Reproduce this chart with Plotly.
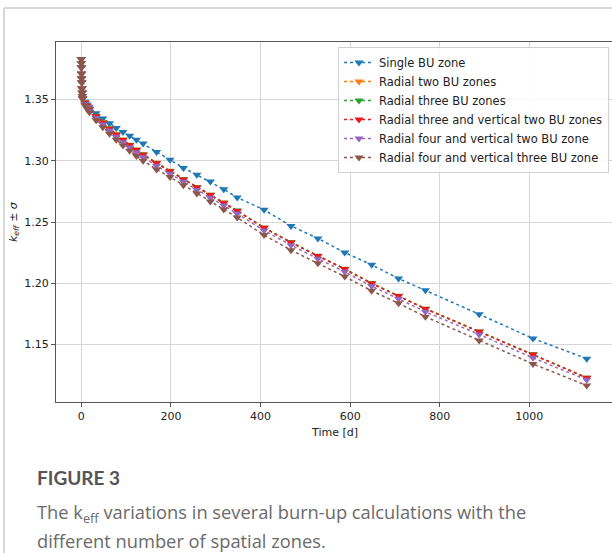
import plotly.graph_objects as go

# ---------------- data ----------------
time_d = [0, 0.1, 0.25, 0.5, 0.75, 1, 1.5, 2, 2.5, 3, 8, 13, 18, 33, 48, 63, 78, 93, 108, 123, 138,
          168, 198, 228, 258, 288, 318, 348, 408, 468, 528, 588, 648, 708, 768, 888, 1008, 1128]

early = [1.3832, 1.3800, 1.3762, 1.3712, 1.3672, 1.3640, 1.3592, 1.3556, 1.3530, 1.3510]

single = early + [1.3482, 1.3460, 1.3437, 1.3388, 1.3346, 1.3306, 1.3268, 1.3236, 1.3204, 1.3172, 1.3142,
                  1.3072, 1.3008, 1.2942, 1.2886, 1.2830, 1.2768, 1.2700, 1.2600, 1.2468, 1.2366, 1.2250,
                  1.2150, 1.2038, 1.1942, 1.1746, 1.1548, 1.1383]
radial2 = early + [1.3476, 1.3450, 1.3425, 1.3367, 1.3315, 1.3266, 1.3218, 1.3174, 1.3132, 1.3092, 1.3054,
                   1.2984, 1.2918, 1.2851, 1.2785, 1.2723, 1.2660, 1.2592, 1.2453, 1.2334, 1.2223, 1.2116,
                   1.1999, 1.1895, 1.1791, 1.1603, 1.1416, 1.1226]
radial3 = early + [1.3475, 1.3449, 1.3424, 1.3366, 1.3314, 1.3264, 1.3216, 1.3172, 1.3130, 1.3090, 1.3052,
                   1.2982, 1.2917, 1.2850, 1.2784, 1.2722, 1.2658, 1.2593, 1.2454, 1.2335, 1.2225, 1.2117,
                   1.2000, 1.1897, 1.1792, 1.1606, 1.1419, 1.1228]
r3v2 = early + [1.3474, 1.3448, 1.3422, 1.3364, 1.3312, 1.3262, 1.3214, 1.3170, 1.3128, 1.3088, 1.3050,
                1.2980, 1.2915, 1.2848, 1.2782, 1.2720, 1.2655, 1.2590, 1.2452, 1.2332, 1.2222, 1.2115,
                1.1998, 1.1895, 1.1790, 1.1604, 1.1418, 1.1227]
r4v2 = early + [1.3465, 1.3438, 1.3410, 1.3350, 1.3296, 1.3245, 1.3196, 1.3151, 1.3109, 1.3068, 1.3030,
                1.2959, 1.2895, 1.2828, 1.2761, 1.2699, 1.2634, 1.2569, 1.2430, 1.2311, 1.2200, 1.2093,
                1.1976, 1.1872, 1.1767, 1.1581, 1.1390, 1.1210]
r4v3 = early + [1.3455, 1.3425, 1.3396, 1.3332, 1.3275, 1.3222, 1.3172, 1.3126, 1.3082, 1.3040, 1.3001,
                1.2930, 1.2868, 1.2800, 1.2733, 1.2668, 1.2603, 1.2536, 1.2393, 1.2270, 1.2162, 1.2054,
                1.1938, 1.1836, 1.1726, 1.1532, 1.1340, 1.1164]

series_names = ["Single BU zone", "Radial two BU zones", "Radial three BU zones",
                "Radial three and vertical two BU zones", "Radial four and vertical two BU zone",
                "Radial four and vertical three BU zone"]
series_values = [single, radial2, radial3, r3v2, r4v2, r4v3]
colors = ["#1f77b4", "#ff7f0e", "#2ca02c", "#e8191f", "#9467bd", "#8c564b"]

x_ticks = [0, 200, 400, 600, 800, 1000]
y_ticks = [1.15, 1.20, 1.25, 1.30, 1.35]

# ---------------- figure ----------------
W, H = 612, 553
L, R, T, B = 56, 0, 42, 151
pw, ph = W - L - R, H - T - B

def px(xp):
    return (xp - L) / pw

def py(yp):
    return (H - B - yp) / ph

fig = go.Figure()
for name, vals, col in zip(series_names, series_values, colors):
    fig.add_trace(go.Scatter(
        x=time_d, y=vals, name=name, mode="lines+markers",
        line=dict(color=col, width=1.5, dash="dot"),
        marker=dict(symbol="triangle-down", size=8, color=col),
    ))

fig.update_layout(
    width=W, height=H,
    margin=dict(l=L, r=R, t=T, b=B),
    paper_bgcolor="white", plot_bgcolor="white",
    font=dict(family="DejaVu Sans", size=11, color="#222"),
    showlegend=True,
    legend=dict(
        x=px(338), y=py(47), xanchor="left", yanchor="top",
        bgcolor="rgba(255,255,255,0.85)", bordercolor="#d0d0d0", borderwidth=1,
        font=dict(family="DejaVu Sans", size=11.5, color="#222"),
        tracegroupgap=0, itemwidth=30,
    ),
)

fig.update_xaxes(
    range=[-56.4, 1184.4], tickvals=x_ticks, ticktext=[str(v) for v in x_ticks],
    showgrid=True, gridcolor="#d6d6d6", gridwidth=1, zeroline=False,
    showline=True, linecolor="#555", linewidth=1, mirror=True,
    ticks="outside", ticklen=4, tickcolor="#555",
    tickfont=dict(family="DejaVu Sans", size=11, color="#222"),
)
fig.update_yaxes(
    range=[1.1029, 1.3971], tickvals=y_ticks, ticktext=[f"{v:.2f}" for v in y_ticks],
    showgrid=True, gridcolor="#d6d6d6", gridwidth=1, zeroline=False,
    showline=True, linecolor="#555", linewidth=1, mirror=True,
    ticks="outside", ticklen=4, tickcolor="#555",
    tickfont=dict(family="DejaVu Sans", size=11, color="#222"),
)

ann = []
ann.append(dict(x=px(334), y=py(433), xref="paper", yref="paper", text="Time [d]",
                showarrow=False, xanchor="center", yanchor="middle",
                font=dict(family="DejaVu Sans", size=11, color="#222")))
ann.append(dict(x=px(14), y=py(222), xref="paper", yref="paper",
                text="<i>k</i><sub><i>eff</i></sub> ± <i>σ</i>", textangle=-90,
                showarrow=False, xanchor="center", yanchor="middle",
                font=dict(family="DejaVu Sans", size=11, color="#222")))
ann.append(dict(x=px(35), y=py(477), xref="paper", yref="paper", text="<b>FIGURE 3</b>",
                showarrow=False, xanchor="left", yanchor="middle",
                font=dict(family="Lato", size=19, color="#555")))
ann.append(dict(x=px(35), y=py(513), xref="paper", yref="paper",
                text="The k<sub>eff</sub> variations in several burn-up calculations with the",
                showarrow=False, xanchor="left", yanchor="middle",
                font=dict(family="Open Sans", size=18.3, color="#6a6a6a")))
ann.append(dict(x=px(35), y=py(540), xref="paper", yref="paper",
                text="different number of spatial zones.",
                showarrow=False, xanchor="left", yanchor="middle",
                font=dict(family="Open Sans", size=18.3, color="#6a6a6a")))
fig.update_layout(annotations=ann)

# outer panel frame
fig.add_shape(type="line", xref="paper", yref="paper", x0=px(4), x1=px(612), y0=py(8), y1=py(8),
              line=dict(color="#cccccc", width=1.5))
fig.add_shape(type="line", xref="paper", yref="paper", x0=px(4), x1=px(4), y0=py(8), y1=py(553),
              line=dict(color="#cccccc", width=1.5))

fig.write_html("out.html", config={"displayModeBar": False},
               post_script="document.body.style.margin='0px';")
